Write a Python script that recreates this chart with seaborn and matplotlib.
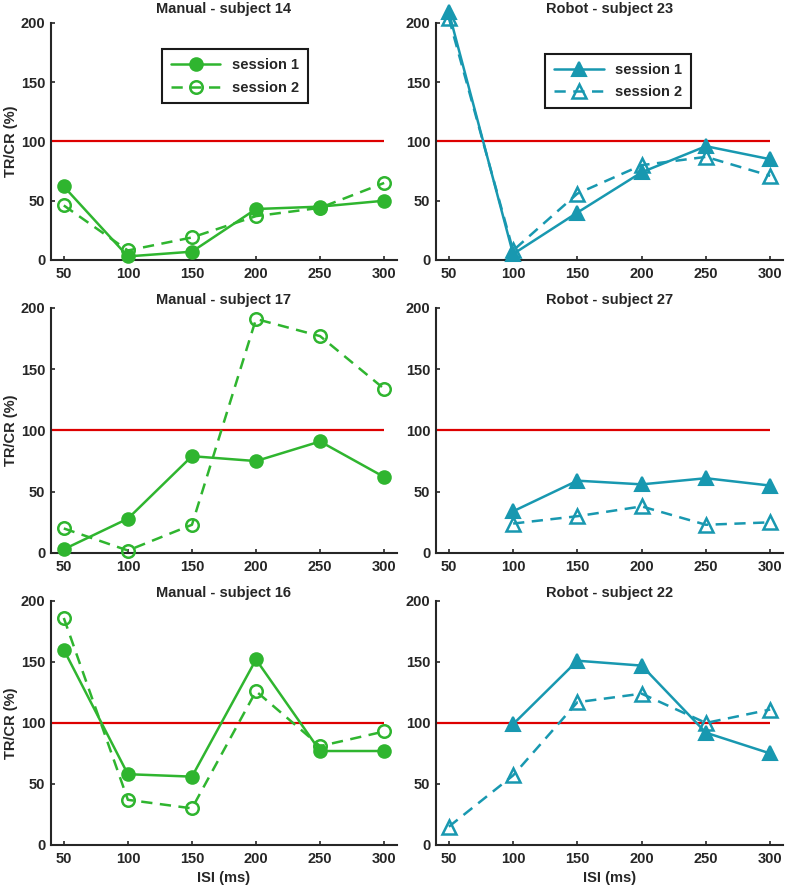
import matplotlib
matplotlib.use('Agg')
import matplotlib.pyplot as plt
import numpy as np
import pandas as pd
import seaborn as sns

sns.set_style('ticks')
plt.rcParams['font.family'] = ['Liberation Sans', 'DejaVu Sans']
plt.rcParams['font.weight'] = 'bold'
plt.rcParams['axes.titleweight'] = 'bold'
plt.rcParams['axes.labelweight'] = 'bold'
plt.rcParams['xtick.direction'] = 'in'
plt.rcParams['ytick.direction'] = 'in'

# data
isi = [50, 100, 150, 200, 250, 300]
nan = np.nan

manual_14_s1 = [62, 3, 7, 43, 45, 50]
manual_14_s2 = [46, 8, 19, 37, 44, 65]
robot_23_s1 = [209, 5, 40, 74, 96, 85]
robot_23_s2 = [204, 8, 56, 80, 87, 71]

manual_17_s1 = [3, 28, 79, 75, 91, 62]
manual_17_s2 = [20, 2, 23, 191, 177, 134]
robot_27_s1 = [nan, 34, 59, 56, 61, 55]
robot_27_s2 = [nan, 24, 30, 38, 23, 25]

manual_16_s1 = [160, 58, 56, 152, 77, 77]
manual_16_s2 = [186, 37, 30, 126, 81, 93]
robot_22_s1 = [nan, 99, 151, 147, 92, 75]
robot_22_s2 = [15, 57, 117, 124, 100, 111]

titles = ['Manual - subject 14', 'Robot - subject 23',
          'Manual - subject 17', 'Robot - subject 27',
          'Manual - subject 16', 'Robot - subject 22']
series = [(manual_14_s1, manual_14_s2), (robot_23_s1, robot_23_s2),
          (manual_17_s1, manual_17_s2), (robot_27_s1, robot_27_s2),
          (manual_16_s1, manual_16_s2), (robot_22_s1, robot_22_s2)]
session_labels = ['session 1', 'session 2']
ref_level = 100

green = '#2fb52f'
teal = '#1898b0'
red = '#dd0000'
dark = '#262626'

fig = plt.figure(figsize=(7.87, 8.90), dpi=100)

col_x = [(0.0648, 0.4396), (0.554, 0.441)]
row_y = [(0.7079, 0.2663), (0.3787, 0.2753), (0.0506, 0.2742)]

for i, (title, (s1, s2)) in enumerate(zip(titles, series)):
    row, col = divmod(i, 2)
    ax = fig.add_axes([col_x[col][0], row_y[row][0], col_x[col][1], row_y[row][1]])
    color = green if col == 0 else teal
    marker = 'o' if col == 0 else '^'
    ms = 9 if col == 0 else 10.5

    ax.hlines(ref_level, 40, 300, color=red, lw=1.6, zorder=1)

    df = pd.DataFrame({'isi': isi, 's1': s1, 's2': s2})
    sns.lineplot(data=df, x='isi', y='s1', ax=ax, color=color, lw=1.8,
                 marker=marker, markersize=ms, markerfacecolor=color,
                 markeredgecolor=color, markeredgewidth=1.5,
                 label=session_labels[0], clip_on=False, zorder=3)
    sns.lineplot(data=df, x='isi', y='s2', ax=ax, color=color, lw=1.8,
                 linestyle=(0, (4.5, 3)), marker=marker, markersize=ms,
                 markerfacecolor='none', markeredgecolor=color,
                 markeredgewidth=1.8, label=session_labels[1],
                 clip_on=False, zorder=3)

    ax.set_xlim(40, 310)
    ax.set_ylim(0, 200)
    ax.set_xticks(isi)
    ax.set_yticks([0, 50, 100, 150, 200])
    ax.set_title(title, fontsize=10.5, fontweight='bold', color=dark,
                 pad=7.5 if row == 0 else 3)
    ax.set_xlabel('ISI (ms)' if row == 2 else '', fontsize=10.5, color=dark, labelpad=4)
    ax.set_ylabel('TR/CR (%)' if col == 0 else '', fontsize=10.5, color=dark, labelpad=2)
    ax.tick_params(labelsize=10.5, colors=dark, length=3, width=1.2)
    ax.tick_params(axis='x', pad=5)
    ax.tick_params(axis='y', pad=4)
    for s in ['left', 'bottom']:
        ax.spines[s].set_linewidth(1.5)
        ax.spines[s].set_color(dark)
    sns.despine(ax=ax)

    if row == 0:
        anchor = (0.30, 0.92) if col == 0 else (0.294, 0.90)
        leg = ax.legend(loc='upper left', bbox_to_anchor=anchor, fontsize=10.5,
                        handlelength=3.4, fancybox=False, framealpha=1,
                        edgecolor='#1a1a1a', borderpad=0.6, labelspacing=0.6)
        leg.get_frame().set_linewidth(1.5)
        for t in leg.get_texts():
            t.set_fontweight('bold')
    else:
        ax.get_legend().remove()

fig.savefig('out.png', dpi=100)
